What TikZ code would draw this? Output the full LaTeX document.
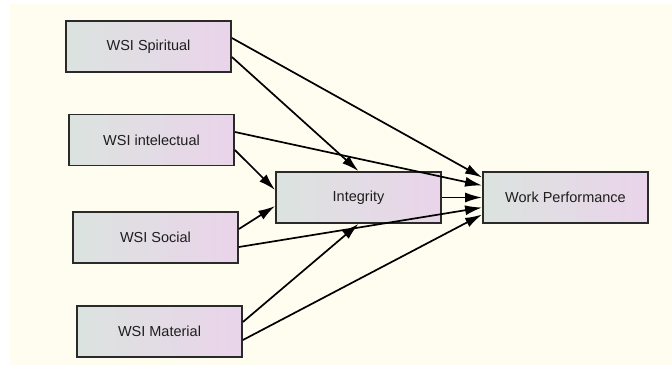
\documentclass[tikz,border=0pt]{standalone}
\usepackage{fontspec}
\setmainfont{Liberation Sans}
\usetikzlibrary{arrows.meta}
\definecolor{cream}{HTML}{FFFDF0}
\definecolor{boxL}{HTML}{DBE3DF}
\definecolor{boxR}{HTML}{EAD4EA}
\definecolor{edge}{HTML}{2A2A2A}
\definecolor{txt}{HTML}{1E1E1E}
\begin{document}
\begin{tikzpicture}[x=1pt,y=1pt,
  var/.style={draw=edge,line width=1.8pt,left color=boxL,right color=boxR,shading angle=90,
    minimum width=165pt,minimum height=51pt,inner sep=0pt,text=txt,
    font=\fontsize{14.5pt}{17pt}\selectfont},
  link/.style={draw=black,line width=1.7pt,-{Latex[length=17pt,width=10pt]}}]
\useasboundingbox (0,0) rectangle (672,365);
\fill[white] (0,0) rectangle (672,365);
\fill[cream] (10,0) rectangle (672,361);
\node[var] (sp) at (148.5,318.5) {WSI Spiritual};
\node[var] (in) at (151.5,225) {WSI intelectual};
\node[var] (so) at (155.5,127.5) {WSI Social};
\node[var] (ma) at (159.5,33.5) {WSI Material};
\node[var] (ig) at (358.5,167.5) {Integrity};
\node[var] (wp) at (565.5,167.5) {Work Performance};
\draw[link] ([yshift=8.5pt]sp.east) -- ([yshift=20pt]wp.west);
\draw[link] ([yshift=-10.5pt]sp.east) -- (ig.north);
\draw[link] ([yshift=8pt]in.east) -- ([yshift=12pt]wp.west);
\draw[link] ([yshift=-10pt]in.east) -- ([yshift=7.5pt]ig.west);
\draw[link] (ig.east) -- (wp.west);
\draw[link] ([yshift=8.5pt]so.east) -- ([yshift=-8.5pt]ig.west);
\draw[link] ([yshift=-9.5pt]so.east) -- ([yshift=-10pt]wp.west);
\draw[link] ([yshift=9.5pt]ma.east) -- (ig.south);
\draw[link] ([yshift=-8.5pt]ma.east) -- ([yshift=-17pt]wp.west);
\end{tikzpicture}
\end{document}
